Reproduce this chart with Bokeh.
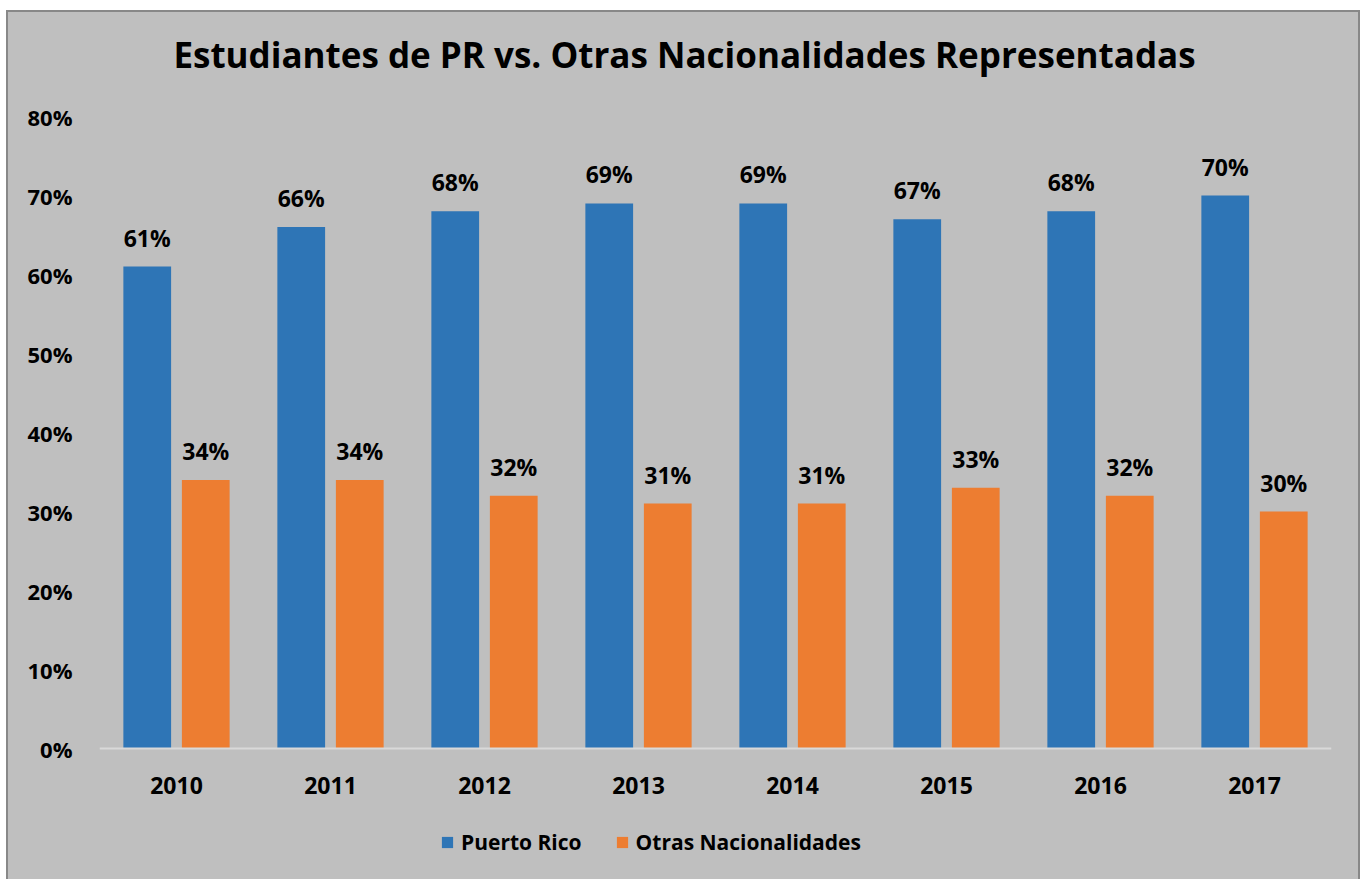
from bokeh.plotting import figure
from bokeh.models import (ColumnDataSource, FactorRange, Range1d, NumeralTickFormatter,
                          LabelSet, Label, Legend, LegendItem, FixedTicker)
from bokeh.core.properties import value
from bokeh.transform import dodge
from bokeh.embed import file_html
from bokeh.resources import INLINE

title_text = "Estudiantes de PR vs. Otras Nacionalidades Representadas"
years = ["2010", "2011", "2012", "2013", "2014", "2015", "2016", "2017"]
puerto_rico = [0.61, 0.66, 0.68, 0.69, 0.69, 0.67, 0.68, 0.70]
otras = [0.34, 0.34, 0.32, 0.31, 0.31, 0.33, 0.32, 0.30]
y_ticks = [0.0, 0.1, 0.2, 0.3, 0.4, 0.5, 0.6, 0.7, 0.8]

FONT = "Open Sans"
BG = "#bfbfbf"
BLUE = "#2e75b6"
ORANGE = "#ed7d31"

src = ColumnDataSource(dict(
    years=years,
    pr=puerto_rico,
    ot=otras,
    pr_lbl=[f"{round(v*100)}%" for v in puerto_rico],
    ot_lbl=[f"{round(v*100)}%" for v in otras],
))

# frame spans the whole height; extra room above/below holds title, x labels and legend
p = figure(x_range=FactorRange(*years, range_padding=0),
           y_range=Range1d(-0.16582, 0.93165),
           frame_width=1232, frame_height=867, output_backend="svg", toolbar_location=None,
           min_border_left=91, min_border_right=27, min_border_top=0, min_border_bottom=0)
p.background_fill_alpha = 0
p.border_fill_alpha = 0
p.outline_line_color = None
p.styles = {"margin-left": "6px", "margin-top": "10px", "background-color": BG,
            "border-left": "2px solid #888888", "border-top": "2px solid #888888",
            "border-right": "2px solid #888888", "box-sizing": "border-box"}

p.add_layout(Label(x=585, y=825, x_units="screen", y_units="screen", text=title_text,
                   text_align="center", text_baseline="alphabetic", text_font=FONT,
                   text_font_size="35px", text_font_style="bold", text_color="black"))

r1 = p.vbar(x=dodge("years", -0.19, range=p.x_range), top="pr", bottom=0, width=0.31,
            source=src, color=BLUE, line_color=None)
r2 = p.vbar(x=dodge("years", 0.19, range=p.x_range), top="ot", bottom=0, width=0.31,
            source=src, color=ORANGE, line_color=None)

for col, lbl, off in (("pr", "pr_lbl", -0.19), ("ot", "ot_lbl", 0.19)):
    p.add_layout(LabelSet(x=dodge("years", off, range=p.x_range), y=col, text=lbl,
                          source=src, text_align="center", text_baseline="alphabetic",
                          y_offset=20, text_font=value(FONT), text_font_size="23px",
                          text_font_style="bold", text_color="black"))

p.xgrid.grid_line_color = None
p.ygrid.grid_line_color = None

p.xaxis.fixed_location = 0
p.xaxis.axis_line_color = "#d9d9d9"
p.xaxis.axis_line_width = 2
p.xaxis.major_tick_line_color = None
p.xaxis.minor_tick_line_color = None
p.xaxis.major_label_text_font = FONT
p.xaxis.major_label_text_font_size = "23px"
p.xaxis.major_label_text_font_style = "bold"
p.xaxis.major_label_text_color = "black"
p.xaxis.major_label_standoff = 22

p.yaxis.axis_line_color = None
p.yaxis.major_tick_line_color = None
p.yaxis.minor_tick_line_color = None
p.yaxis.ticker = FixedTicker(ticks=y_ticks)
p.yaxis.formatter = NumeralTickFormatter(format="0%")
p.yaxis.major_label_text_font = FONT
p.yaxis.major_label_text_font_size = "22px"
p.yaxis.major_label_text_font_style = "bold"
p.yaxis.major_label_text_color = "black"
p.yaxis.major_label_standoff = 21

legend = Legend(items=[LegendItem(label="Puerto Rico", renderers=[r1]),
                       LegendItem(label="Otras Nacionalidades", renderers=[r2])],
                orientation="horizontal", location=(341, 23))
legend.background_fill_alpha = 0
legend.border_line_color = None
legend.label_text_font = FONT
legend.label_text_font_size = "21px"
legend.label_text_font_style = "bold"
legend.label_text_color = "black"
legend.glyph_width = 14
legend.glyph_height = 14
legend.label_standoff = 7
legend.spacing = 33
legend.margin = 0
legend.padding = 0
p.add_layout(legend, "center")

open("out.html", "w").write(file_html(p, INLINE))
